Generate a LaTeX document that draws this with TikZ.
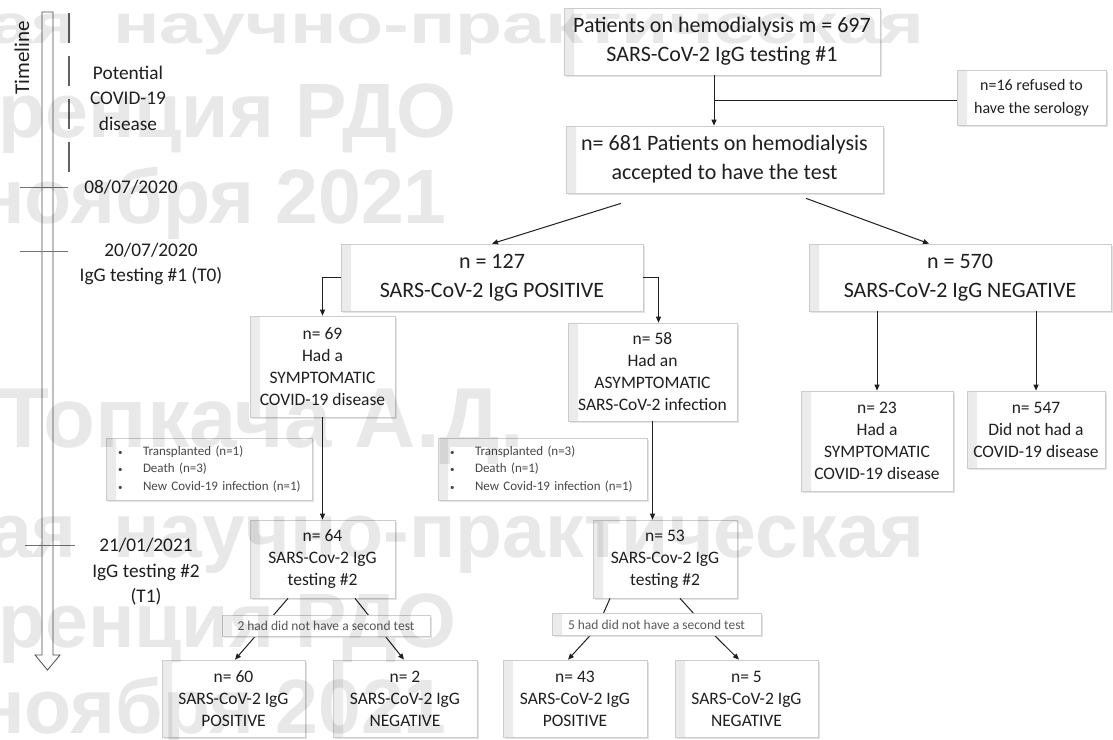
\documentclass[tikz,border=0pt]{standalone}
\usepackage{fontspec}
\setmainfont{Carlito}
\newfontfamily\wmfont{Liberation Sans}
\usetikzlibrary{arrows.meta,shadows}
\definecolor{txt}{gray}{0.12}
\definecolor{bord}{gray}{0.80}
\definecolor{wmgray}{gray}{0.91}
\begin{document}
\begin{tikzpicture}[x=1pt,y=-1pt,
  box/.style={draw=bord, line width=0.7pt, fill=white, inner sep=0pt, align=center, text=txt,
    drop shadow={shadow xshift=1.6pt, shadow yshift=-1.8pt, opacity=0.22},
    path picture={\fill[left color=black!8, right color=white]
      (path picture bounding box.south west) rectangle ([xshift=10pt]path picture bounding box.north west);}},
  big/.style={font=\fontsize{22}{29}\selectfont},
  mid/.style={font=\fontsize{17.5}{22}\selectfont},
  refu/.style={font=\fontsize{16}{23}\selectfont},
  small/.style={font=\fontsize{13}{17.5}\selectfont, text=black!72},
  sec/.style={font=\fontsize{13.5}{15}\selectfont, text=black!65},
  tl/.style={font=\fontsize{19.3}{25.5}\selectfont, text=txt, align=center, inner sep=0pt},
  conn/.style={draw=black!88, line width=1pt},
  arr/.style={conn, -{Triangle[length=6pt,width=5pt]}},
  tick/.style={draw=black!55, line width=0.6pt},
  wm/.style={font=\wmfont\bfseries\fontsize{77}{77}\selectfont, text=wmgray, inner sep=0pt},
]
\useasboundingbox (0,0) rectangle (1113,739);
\clip (0,0) rectangle (1113,739);
\fill[white] (0,0) rectangle (1113,739);

% ---------------- timeline ----------------
\draw[black!70, line width=0.8pt, fill=white]
  (42,12) -- (53,12) -- (53,655) -- (60,655) -- (47.5,670) -- (35,655) -- (42,655) -- cycle;
\draw[black!62, line width=2.6pt, dash pattern=on 30pt off 13pt] (69,13) -- (69,173);
\draw[tick] (20,187) -- (68,187);
\draw[tick] (20,251) -- (68,251);
\draw[tick] (25,545) -- (75,545);
\node[tl, font=\fontsize{21}{21}\selectfont, rotate=90] (tlab) at (22,58) {Timeline};
\node[tl] (pot) at (128,98) {Potential\\COVID-19\\disease};
\node[tl] (d1) at (131,187) {08/07/2020};
\node[tl] (d2) at (151,264) {20/07/2020\\IgG testing \#1 (T0)};
\node[tl] (d3) at (146,572) {21/01/2021\\IgG testing \#2\\(T1)};

\coordinate (j1) at (714,100);

% ---------------- boxes ----------------
\node[box, big, minimum width=316pt, minimum height=67pt] (top) at (722,41.5)
  {Patients on hemodialysis m = 697\\SARS-CoV-2 IgG testing \#1};
\node[box, refu, minimum width=149pt, minimum height=55pt] (refused) at (1031.5,97.5)
  {n=16 refused to\\have the serology};
\node[box, big, minimum width=317pt, minimum height=67pt] (b681) at (724.5,159.5)
  {n= 681 Patients on hemodialysis\\accepted to have the test};
\node[box, big, minimum width=302pt, minimum height=67pt] (b127) at (492,277.5)
  {n = 127\\SARS-CoV-2 IgG POSITIVE};
\node[box, big, minimum width=302pt, minimum height=67pt] (b570) at (960,277.5)
  {n = 570\\SARS-CoV-2 IgG NEGATIVE};
\node[box, mid, minimum width=145pt, minimum height=101pt] (b69) at (322.5,366.5)
  {n= 69\\Had a\\SYMPTOMATIC\\COVID-19 disease};
\node[box, mid, minimum width=169pt, minimum height=98pt] (b58) at (652.5,372)
  {n= 58\\Had an\\ASYMPTOMATIC\\SARS-CoV-2 infection};
\node[box, mid, minimum width=152pt, minimum height=100pt] (b23) at (877,441)
  {n= 23\\Had a\\SYMPTOMATIC\\COVID-19 disease};
\node[box, mid, minimum width=138pt, minimum height=77pt] (b547) at (1036,429.5)
  {n= 547\\Did not had a\\COVID-19 disease};

\draw[arr] ([xshift=-8pt]top.south) -- ([xshift=-10.5pt]b681.north);
\draw[conn] (j1) -- (j1 -| refused.west);
\draw[arr] ([xshift=-103.5pt,yshift=-10pt]b681.south) -- (b127.north);
\draw[arr] ([xshift=81.5pt,yshift=-5pt]b681.south) -- ([xshift=-31pt]b570.north);
\draw[arr] (b127.west) -| (b69.north);
\draw[arr] (b127.east) -| ([xshift=6pt]b58.north);
\draw[arr] (b570.south -| b23.north) -- (b23.north);
\draw[arr] (b570.south -| b547.north) -- (b547.north);

\node[box, mid, minimum width=145pt, minimum height=78pt] (b64) at (322.5,559)
  {n= 64\\SARS-Cov-2 IgG\\testing \#2};
\node[box, mid, minimum width=144pt, minimum height=78pt] (b53) at (665,559)
  {n= 53\\SARS-Cov-2 IgG\\testing \#2};
\node[box, mid, minimum width=143pt, minimum height=77pt] (b60) at (233.5,698.5)
  {n= 60\\SARS-CoV-2 IgG\\POSITIVE};
\node[box, mid, minimum width=144pt, minimum height=77pt] (b2) at (405,698.5)
  {n= 2\\SARS-CoV-2 IgG\\NEGATIVE};
\node[box, mid, minimum width=144pt, minimum height=77pt] (b43) at (575,698.5)
  {n= 43\\SARS-CoV-2 IgG\\POSITIVE};
\node[box, mid, minimum width=143pt, minimum height=77pt] (b5) at (746.5,698.5)
  {n= 5\\SARS-CoV-2 IgG\\NEGATIVE};

\draw[arr] (b69.south) -- (b64.north);
\draw[arr] (b58.south) -- (b58.south |- b53.north);
\draw[arr] ([xshift=-34.5pt]b64.south) -- ([xshift=1.5pt]b60.north);
\draw[arr] ([xshift=32.5pt]b64.south) -- ([xshift=-1pt]b2.north);
\draw[arr] ([xshift=-55pt]b53.south) -- (597,628) -- ([xshift=-7pt]b43.north);
\draw[arr] ([xshift=15pt]b53.south) -- (705,626) -- ([xshift=-7.5pt]b5.north);

\node[box, small, minimum width=206pt, minimum height=62pt, text width=206pt, align=left] (note1) at (209,469)
  {\hspace*{12pt}\makebox[25pt][l]{\fontsize{9}{9}\selectfont •}Transplanted (n=1)\\
   \hspace*{12pt}\makebox[25pt][l]{\fontsize{9}{9}\selectfont •}Death (n=3)\\
   \hspace*{12pt}\makebox[25pt][l]{\fontsize{9}{9}\selectfont •}New Covid-19 infection (n=1)};
\node[box, small, minimum width=209pt, minimum height=62pt, text width=209pt, align=left] (note2) at (542.5,469)
  {\hspace*{12pt}\makebox[25pt][l]{\fontsize{9}{9}\selectfont •}Transplanted (n=3)\\
   \hspace*{12pt}\makebox[25pt][l]{\fontsize{9}{9}\selectfont •}Death (n=1)\\
   \hspace*{12pt}\makebox[25pt][l]{\fontsize{9}{9}\selectfont •}New Covid-19 infection (n=1)};
\node[box, sec, minimum width=208pt, minimum height=21pt] (sec1) at (326,625.5)
  {2 had did not have a second test};
\node[box, sec, minimum width=209pt, minimum height=22pt] (sec2) at (656.5,624.5)
  {5 had did not have a second test};

% ---------------- watermark (multiplied over the drawing) ----------------
\begin{scope}[blend mode=multiply]
\node[wm, anchor=base east] (w1a) at (77,43) {\scalebox{1}[0.72]{ая}};
\node[wm, anchor=base west] (w1b) at (113,43) {\scalebox{1}[0.72]{научно-практическая}};
\node[wm, anchor=base east] (w2) at (457,137) {ренция РДО};
\node[wm, anchor=base east] (w3) at (447,223) {ноября 2021};
\node[wm, anchor=base west, font=\wmfont\bfseries\fontsize{85}{85}\selectfont] (w4) at (-3,447) {Топкача А.Д.};
\node[wm, anchor=base east] (w5a) at (77,557) {ая};
\node[wm, anchor=base west] (w5b) at (113,557) {научно-практическая};
\node[wm, anchor=base east] (w6) at (457,647) {ренция РДО};
\node[wm, anchor=base east] (w7) at (447,733) {ноября 2021};
\end{scope}
\end{tikzpicture}
\end{document}
